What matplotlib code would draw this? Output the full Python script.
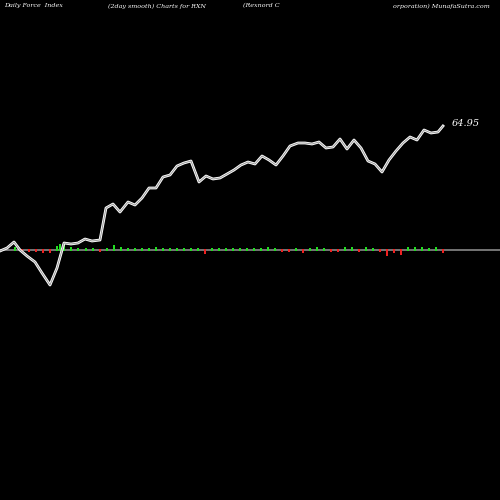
import matplotlib
matplotlib.use("Agg")
import matplotlib.pyplot as plt

xs = [0,7,14,20,27,35,42,50,57,64,71,78,85,92,100,106,113,120,128,135,142,149,156,163,170,177,184,191,199,206,213,220,227,234,241,248,255,262,269,276,283,290,298,305,312,319,326,333,340,347,354,361,368,375,382,389,396,403,410,417,424,431,438,443]
ys = [251,248,242,250,256,262,273,285,268,243,244,243,239,241,240,208,204,212,202,205,198,188,188,177,175,166,163,161,182,176,179,178,174,170,165,162,164,156,160,165,156,146,143,143,144,142,148,147,139,149,140,148,161,164,172,160,151,143,137,140,130,133,132,126]
bar_x = [15,22,29,36,43,50,57,60,64,71,78,86,93,100,107,114,121,128,135,142,149,156,163,170,177,184,191,198,205,212,219,226,233,240,247,254,261,268,275,282,289,296,303,310,317,324,331,338,345,352,359,366,373,380,387,394,401,408,415,422,429,436,443]
bar_h = [2,-1,-1,-1,-2,-2,3,5,5,2,1,1,1,-1,1,4,2,1,1,1,1,2,1,1,1,1,1,1,-3,1,1,1,1,1,1,1,1,2,1,-1,-1,1,-2,1,2,1,-1,-1,2,2,-1,2,1,-1,-5,-2,-4,2,2,2,1,2,-2]

fig = plt.figure(figsize=(5, 5), dpi=100, facecolor="black")
ax = fig.add_axes([0, 0, 1, 1])
ax.set_facecolor("black")
ax.set_xlim(0, 500)
ax.set_ylim(500, 0)
ax.axis("off")
ax.axhline(250, color="#888888", lw=1.2, zorder=1)
for bx, bh in zip(bar_x, bar_h):
    h = (abs(bh) + 1.5) * (1 if bh > 0 else -1)
    ax.bar(bx, -h, bottom=250 + (0.7 if bh > 0 else -0.7), width=2.5,
           color="#22dd22" if bh > 0 else "#ee2222", zorder=2)
ax.plot(xs, ys, color="white", lw=2.0, zorder=3)
ax.plot(xs, ys, color="#999999", lw=0.7, zorder=4)
ax.text(452, 124, "64.95", color="white", fontsize=7, family="DejaVu Serif", style="italic", va="center")
kw = dict(color="white", fontsize=4.6, family="DejaVu Serif", style="italic", va="center")
ax.text(4, 6, "Daily Force  Index", **kw)
ax.text(108, 6, "(2day smooth) Charts for RXN", **kw)
ax.text(243, 6, "(Rexnord C", **kw)
ax.text(393, 6, "orporation) MunafaSutra.com", **kw)
fig.savefig("out.png", facecolor="black")
